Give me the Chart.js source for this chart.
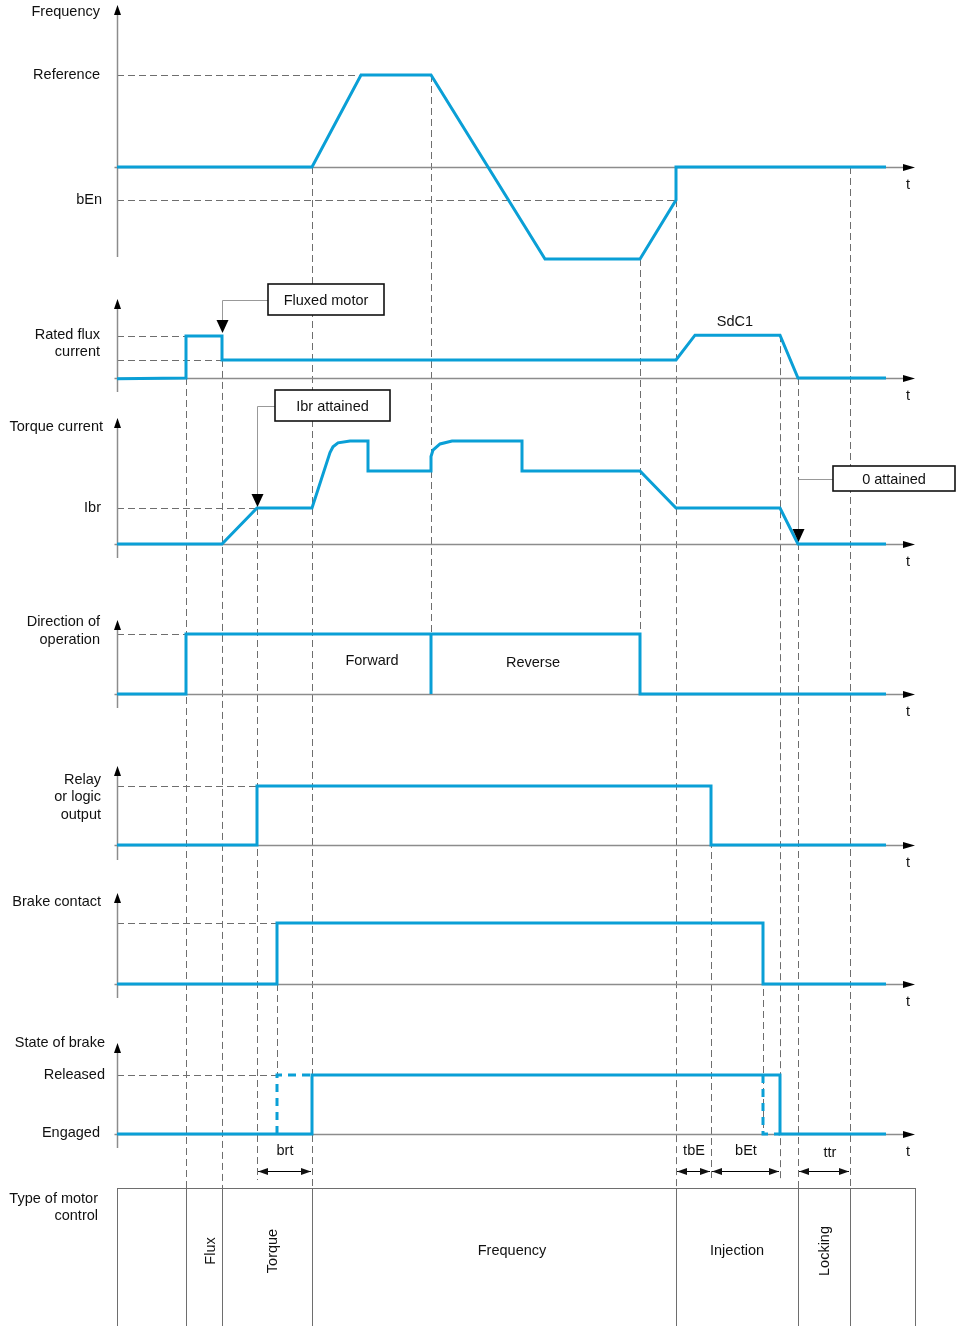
<!DOCTYPE html>
<html>
<head>
<meta charset="utf-8">
<script src="https://cdn.jsdelivr.net/npm/chart.js@4.4.1/dist/chart.umd.min.js"></script>
<style>
  html, body { margin: 0; padding: 0; background: #fff; }
</style>
</head>
<body>
<canvas id="diagram" width="956" height="1326"></canvas>
<script>
// times are counted from the vertical axes (t = 0)
var freqT = [0, 195, 244, 314, 428, 523, 559, 559, 769];
var freqV = [0, 0, 1, 1, -1, -1, -0.36, 0, 0];

var fluxT = [0, 69, 69, 105, 105, 559, 578, 663, 681, 769];
var fluxV = [-0.02, 0, 1, 1, 0.43, 0.43, 1.02, 1.02, 0, 0];

var torqueT = [0, 105, 140, 195, 213, 216, 221, 233, 251, 251, 314, 314, 316, 323, 335, 405, 405, 523, 559, 663, 681, 769];
var torqueV = [0, 0, 1, 1, 2.54, 2.7, 2.81, 2.86, 2.86, 2.03, 2.03, 2.43, 2.61, 2.78, 2.86, 2.86, 2.03, 2.03, 1, 1, 0, 0];

var dirT = [0, 69, 69, 314, 314, 314, 523, 523, 769];
var dirV = [0, 0, 1, 1, 0, 1, 1, 0, 0];

var relayT = [0, 140, 140, 594, 594, 769];
var relayV = [0, 0, 1, 1, 0, 0];

var brakeT = [0, 160, 160, 646, 646, 769];
var brakeV = [0, 0, 1, 1, 0, 0];

var stateT = [0, 195, 195, 663, 663, 769];
var stateV = [0, 0, 1, 1, 0, 0];
// commanded (dashed) part of the brake state
var stateCmdT = [160, 160, 195, 195, 646, 646, 663];
var stateCmdV = [0, 1, 1, null, 1, 0, 0];

var bEn = -0.36;
var motorCells = [69, 105, 195, 559, 681, 733];
var motorLabels = ['Flux', 'Torque', 'Frequency', 'Injection', 'Locking'];
var motorLabelT = [94, 156, 395, 620, 708];
var motorRotated = [true, true, false, false, true];

var timers = ['brt', 'tbE', 'bEt', 'ttr'];
var timerFrom = [140, 559, 594, 681];
var timerTo = [195, 594, 663, 733];
var timerLabelT = [168, 577, 629, 713];

var BLUE = '#0a9fd6';
var GUIDE = '#6e6e6e';
var AXIS = '#8c8c8c';
var FONT = '14.5px "Liberation Sans", Arial, sans-serif';
var H = 1326;

// panel layout: baseline pixel, pixels per unit, axis extent
var panels = [
  { id: 'yFreq',   base: 167,  amp: 92, top: 5,    bottom: 257 },
  { id: 'yFlux',   base: 378,  amp: 42, top: 299,  bottom: 392 },
  { id: 'yTorque', base: 544,  amp: 36, top: 418,  bottom: 558 },
  { id: 'yDir',    base: 694,  amp: 60, top: 620,  bottom: 708 },
  { id: 'yRelay',  base: 845,  amp: 59, top: 766,  bottom: 860 },
  { id: 'yBrake',  base: 984,  amp: 61, top: 893,  bottom: 998 },
  { id: 'yState',  base: 1134, amp: 59, top: 1043, bottom: 1148 }
];
var TABLE_TOP = 1188, DIM_Y = 1171, DIM_END = 1180;

var scales = { x: { type: 'linear', display: false, min: -117, max: 839 } };
panels.forEach(function (p) {
  scales[p.id] = { type: 'linear', display: false, min: -(H - p.base) / p.amp, max: p.base / p.amp };
});

function pts(ts, vs) {
  return ts.map(function (t, i) { return { x: t, y: vs[i] }; });
}
function signal(ts, vs, axis, dashed) {
  return {
    data: pts(ts, vs), yAxisID: axis, borderColor: BLUE, borderWidth: 3,
    pointRadius: 0, tension: 0, fill: false, spanGaps: false, clip: false,
    borderDash: dashed ? [8, 6] : [], borderCapStyle: 'butt'
  };
}

var hGuides = [
  ['yFreq', 1, 0, 244], ['yFreq', bEn, 0, 559],
  ['yFlux', 1, 0, 69], ['yFlux', 0.43, 0, 105],
  ['yTorque', 1, 0, 140], ['yDir', 1, 0, 69],
  ['yRelay', 1, 0, 140], ['yBrake', 1, 0, 160], ['yState', 1, 0, 160]
];
var vGuides = [
  [69, 'yFlux', 0, 'table'], [105, 'yFlux', 0.43, 'table'], [140, 'yTorque', 1, 'dim'],
  [160, 'yBrake', 0, 'yState', 1], [195, 'yFreq', 0, 'table'], [314, 'yFreq', 1, 'yDir', 0],
  [523, 'yFreq', -1, 'yDir', 0], [559, 'yFreq', bEn, 'table'], [594, 'yRelay', 1, 'dim'],
  [646, 'yBrake', 1, 'yState', 0], [663, 'yFlux', 1.02, 'dim'], [681, 'yFlux', 0, 'table'],
  [733, 'yFreq', 0, 'table']
];

var diagramPlugin = {
  id: 'diagram',
  beforeDatasetsDraw: function (chart) {
    var ctx = chart.ctx, sx = chart.scales.x;
    function X(t) { return sx.getPixelForValue(t); }
    function Y(id, v) { return chart.scales[id].getPixelForValue(v); }
    ctx.save();
    // dashed guides
    ctx.strokeStyle = GUIDE; ctx.lineWidth = 1; ctx.setLineDash([7, 4]);
    hGuides.forEach(function (g) {
      var y = Math.round(Y(g[0], g[1])) + 0.5;
      ctx.beginPath(); ctx.moveTo(X(g[2]), y); ctx.lineTo(X(g[3]), y); ctx.stroke();
    });
    vGuides.forEach(function (g) {
      var x = Math.round(X(g[0])) + 0.5;
      var y1 = Y(g[1], g[2]);
      var y2 = g[3] === 'table' ? TABLE_TOP : g[3] === 'dim' ? DIM_END : Y(g[3], g[4]);
      ctx.beginPath(); ctx.moveTo(x, y1); ctx.lineTo(x, y2); ctx.stroke();
    });
    ctx.setLineDash([]);
    // axes
    panels.forEach(function (p) {
      var x0 = Math.round(X(0)) + 0.5, yb = Math.round(Y(p.id, 0)) + 0.5, xe = X(798);
      ctx.strokeStyle = AXIS; ctx.lineWidth = 1.5;
      ctx.beginPath(); ctx.moveTo(x0, p.bottom); ctx.lineTo(x0, p.top + 8); ctx.stroke();
      ctx.beginPath(); ctx.moveTo(x0 - 3, yb); ctx.lineTo(xe - 10, yb); ctx.stroke();
      ctx.fillStyle = '#000';
      ctx.beginPath(); ctx.moveTo(x0, p.top); ctx.lineTo(x0 - 3.5, p.top + 10); ctx.lineTo(x0 + 3.5, p.top + 10); ctx.closePath(); ctx.fill();
      ctx.beginPath(); ctx.moveTo(xe, yb); ctx.lineTo(xe - 12, yb - 3.5); ctx.lineTo(xe - 12, yb + 3.5); ctx.closePath(); ctx.fill();
    });
    // motor control table
    ctx.strokeStyle = GUIDE; ctx.lineWidth = 1;
    ctx.strokeRect(Math.round(X(0)) + 0.5, TABLE_TOP + 0.5, X(798) - X(0), H - TABLE_TOP + 5);
    motorCells.forEach(function (t) {
      var x = Math.round(X(t)) + 0.5;
      ctx.beginPath(); ctx.moveTo(x, TABLE_TOP); ctx.lineTo(x, H); ctx.stroke();
    });
    ctx.restore();
  },
  afterDatasetsDraw: function (chart) {
    var ctx = chart.ctx, sx = chart.scales.x;
    function X(t) { return sx.getPixelForValue(t); }
    function Y(id, v) { return chart.scales[id].getPixelForValue(v); }
    function text(s, x, y, align) {
      ctx.textAlign = align || 'center'; ctx.fillText(s, x, y);
    }
    function downArrow(x, y) {
      ctx.fillStyle = '#000';
      ctx.beginPath(); ctx.moveTo(x, y); ctx.lineTo(x - 6, y - 13); ctx.lineTo(x + 6, y - 13); ctx.closePath(); ctx.fill();
    }
    function callout(label, left, right, top, bottom, tipT, tipY) {
      var xl = X(left), xr = X(right), mid = (top + bottom) / 2, xt = Math.round(X(tipT)) + 0.5;
      ctx.strokeStyle = '#999'; ctx.lineWidth = 1;
      ctx.beginPath(); ctx.moveTo(xl, Math.round(mid) + 0.5); ctx.lineTo(xt, Math.round(mid) + 0.5); ctx.lineTo(xt, tipY - 12); ctx.stroke();
      ctx.fillStyle = '#fff'; ctx.fillRect(xl, top, xr - xl, bottom - top);
      ctx.strokeStyle = '#111'; ctx.lineWidth = 1.6; ctx.strokeRect(xl, top, xr - xl, bottom - top);
      ctx.fillStyle = '#111'; text(label, (xl + xr) / 2, mid + 1);
      downArrow(xt, tipY);
    }
    ctx.save();
    ctx.font = FONT; ctx.textBaseline = 'middle'; ctx.fillStyle = '#111';

    text('Frequency', 100, 12, 'right');
    text('Reference', 100, Y('yFreq', 1), 'right');
    text('bEn', 102, Y('yFreq', bEn), 'right');
    text('Rated flux', 100, 335, 'right');
    text('current', 100, 352, 'right');
    text('Torque current', 103, 427, 'right');
    text('Ibr', 101, Y('yTorque', 1), 'right');
    text('Direction of', 100, 622, 'right');
    text('operation', 100, 640, 'right');
    text('Relay', 101, 780, 'right');
    text('or logic', 101, 797, 'right');
    text('output', 101, 815, 'right');
    text('Brake contact', 101, 902, 'right');
    text('State of brake', 105, 1043, 'right');
    text('Released', 105, Y('yState', 1), 'right');
    text('Engaged', 100, Y('yState', 0) - 1, 'right');
    text('Type of motor', 98, 1199, 'right');
    text('control', 98, 1216, 'right');

    text('SdC1', X(618), Y('yFlux', 1.02) - 13);
    text('Forward', X(255), 661);
    text('Reverse', X(416), 663);

    panels.forEach(function (p) { text('t', 908, Y(p.id, 0) + 18); });

    // timer dimensions
    ctx.strokeStyle = '#000'; ctx.lineWidth = 1;
    timers.forEach(function (name, i) {
      var a = X(timerFrom[i]) + 1, b = X(timerTo[i]) - 1;
      ctx.beginPath(); ctx.moveTo(a, DIM_Y + 0.5); ctx.lineTo(b, DIM_Y + 0.5); ctx.stroke();
      ctx.beginPath(); ctx.moveTo(a, DIM_Y + 0.5); ctx.lineTo(a + 10, DIM_Y - 3); ctx.lineTo(a + 10, DIM_Y + 4); ctx.closePath(); ctx.fill();
      ctx.beginPath(); ctx.moveTo(b, DIM_Y + 0.5); ctx.lineTo(b - 10, DIM_Y - 3); ctx.lineTo(b - 10, DIM_Y + 4); ctx.closePath(); ctx.fill();
      text(name, X(timerLabelT[i]), 1151 + (i === 3 ? 2 : 0));
    });

    // motor control phases
    motorLabels.forEach(function (s, i) {
      var x = X(motorLabelT[i]);
      if (motorRotated[i]) {
        ctx.save(); ctx.translate(x, 1251); ctx.rotate(-Math.PI / 2); text(s, 0, 0); ctx.restore();
      } else {
        text(s, x, 1251);
      }
    });

    callout('Fluxed motor', 151, 267, 284, 315, 105, Y('yFlux', 1.07));
    callout('Ibr attained', 158, 273, 390, 421, 140, Y('yTorque', 1) - 1);
    callout('0 attained', 716, 838, 466, 491, 681, Y('yTorque', 0) - 2);
    ctx.restore();
  }
};

new Chart(document.getElementById('diagram').getContext('2d'), {
  type: 'line',
  data: {
    datasets: [
      signal(freqT, freqV, 'yFreq'),
      signal(fluxT, fluxV, 'yFlux'),
      signal(torqueT, torqueV, 'yTorque'),
      signal(dirT, dirV, 'yDir'),
      signal(relayT, relayV, 'yRelay'),
      signal(brakeT, brakeV, 'yBrake'),
      signal(stateT, stateV, 'yState'),
      signal(stateCmdT, stateCmdV, 'yState', true)
    ]
  },
  options: {
    responsive: false,
    animation: false,
    devicePixelRatio: 1,
    layout: { padding: 0 },
    plugins: { legend: { display: false }, tooltip: { enabled: false }, title: { display: false } },
    scales: scales
  },
  plugins: [diagramPlugin]
});
</script>
</body>
</html>
